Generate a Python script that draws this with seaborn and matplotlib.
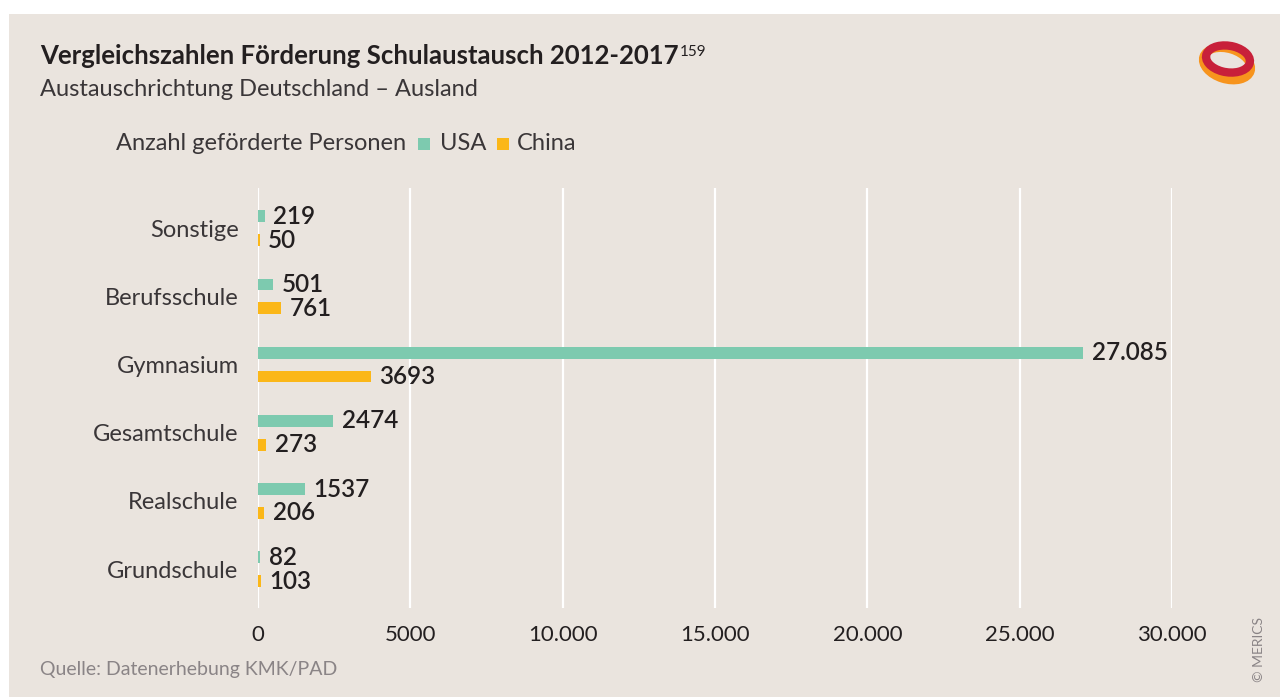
import matplotlib
matplotlib.use("Agg")
import matplotlib.pyplot as plt
import seaborn as sns
import pandas as pd
from matplotlib.patches import Rectangle, Ellipse

# data
categories = ["Sonstige", "Berufsschule", "Gymnasium", "Gesamtschule", "Realschule", "Grundschule"]
usa = [219, 501, 27085, 2474, 1537, 82]
china = [50, 761, 3693, 273, 206, 103]
usa_labels = ["219", "501", "27.085", "2474", "1537", "82"]
china_labels = ["50", "761", "3693", "273", "206", "103"]
xticks = [0, 5000, 10000, 15000, 20000, 25000, 30000]
xtick_labels = ["0", "5000", "10.000", "15.000", "20.000", "25.000", "30.000"]

bg = "#EAE4DE"
col_usa = "#7DCAAF"
col_china = "#FBB718"
dark = "#231F20"
grey = "#3a3638"

df = pd.DataFrame({
    "Kategorie": categories * 2,
    "Wert": usa + china,
    "Land": ["USA"] * 6 + ["China"] * 6,
})

sns.set_style("white")
plt.rcParams["font.family"] = ["Lato", "DejaVu Sans"]

W, H = 1284, 697
fig = plt.figure(figsize=(W / 100, H / 100), dpi=100)
fig.patch.set_facecolor("white")
# beige panel
fig.patches.append(Rectangle((9 / W, 0), (1280 - 9) / W, 1 - 14 / H,
                             transform=fig.transFigure, facecolor=bg, edgecolor="none", zorder=-10))

def fx(px):
    return px / W

def fy(py):
    return 1 - py / H

ax = fig.add_axes([fx(258), fy(608), fx(1172) - fx(258), fy(188) - fy(608)])
ax.patch.set_alpha(0)

sns.barplot(data=df, x="Wert", y="Kategorie", hue="Land", orient="h",
            palette={"USA": col_usa, "China": col_china}, width=0.7, gap=0.5,
            saturation=1, errorbar=None, legend=False, ax=ax, zorder=3, linewidth=0)

ax.set_xlim(0, 30000)
ax.set_ylim(5.57, -0.59)
ax.set_xticks(xticks)
ax.set_xticklabels(xtick_labels, fontsize=16, color=dark)
ax.tick_params(axis="x", length=0, pad=12)
ax.tick_params(axis="y", length=0, pad=14)
ax.set_yticks(range(len(categories)))
ax.set_yticklabels(categories, fontsize=17, color=grey)
ax.set_xlabel("")
ax.set_ylabel("")
for s in ax.spines.values():
    s.set_visible(False)
ax.grid(axis="x", color="white", linewidth=1.6, zorder=0)
ax.set_axisbelow(True)

for i in range(len(categories)):
    ax.annotate(usa_labels[i], (usa[i], i - 0.175), xytext=(6, 0), textcoords="offset points",
                va="center", ha="left", fontsize=17.5, fontweight="semibold", color=dark,
                annotation_clip=False)
    ax.annotate(china_labels[i], (china[i], i + 0.175), xytext=(6, 0), textcoords="offset points",
                va="center", ha="left", fontsize=17.5, fontweight="semibold", color=dark,
                annotation_clip=False)

# titles
title = fig.text(fx(40), fy(56), "Vergleichszahlen Förderung Schulaustausch 2012-2017",
                 fontsize=18.5, fontweight="bold", color=dark, va="center")
ax.annotate("159", xy=(1, 1), xycoords=title, xytext=(1, -1), textcoords="offset points",
            fontsize=11, color=dark, va="top", ha="left", annotation_clip=False)
fig.text(fx(40), fy(90), "Austauschrichtung Deutschland – Ausland",
         fontsize=17, color=grey, va="center")

# legend line
fig.text(fx(116), fy(144), "Anzahl geförderte Personen", fontsize=17,
         color=grey, va="center")
fig.patches.append(Rectangle((fx(418), fy(150)), 12 / W, 12 / H, transform=fig.transFigure,
                             facecolor=col_usa, edgecolor="none"))
fig.text(fx(440), fy(144), "USA", fontsize=17, color=grey, va="center")
fig.patches.append(Rectangle((fx(497), fy(150)), 12 / W, 12 / H, transform=fig.transFigure,
                             facecolor=col_china, edgecolor="none"))
fig.text(fx(517), fy(144), "China", fontsize=17, color=grey, va="center")

# source & copyright
fig.text(fx(40), fy(670), "Quelle: Datenerhebung KMK/PAD", fontsize=14,
         color="#8a8486", va="center")
fig.text(fx(1259), fy(650), "© MERICS", fontsize=10, color="#8a8486",
         rotation=90, va="center", ha="center")

# rough logo
fig.patches.append(Ellipse((fx(1227), fy(64)), 44 / W, 34 / H, angle=25, transform=fig.transFigure,
                           facecolor="none", edgecolor="#F7941D", linewidth=6))
fig.patches.append(Ellipse((fx(1228), fy(59)), 42 / W, 28 / H, angle=25, transform=fig.transFigure,
                           facecolor="none", edgecolor="#C8203A", linewidth=6))

fig.savefig("out.png", dpi=100, facecolor="white")
